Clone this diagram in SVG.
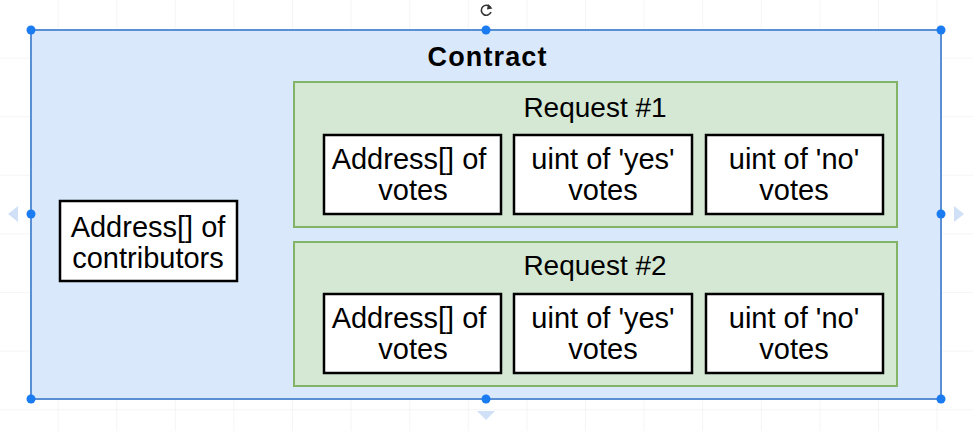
<svg xmlns="http://www.w3.org/2000/svg" width="973" height="431" viewBox="0 0 973 431">
<style>
text{font-family:"Liberation Sans",Arial,Helvetica,sans-serif;fill:#000;text-anchor:middle}
.t{font-size:29px}
.h{font-size:28px}
.c{font-size:27px;font-weight:bold}
.grp{fill:#d5e8d4;stroke:#82b366;stroke-width:2}
.box{fill:#fff;stroke:#000;stroke-width:2.5}
.hd{fill:#1a7cf0}
.ar{fill:#cfe0f7}
</style>
<defs>
<pattern id="grid" width="58.6" height="58.6" patternUnits="userSpaceOnUse" x="0" y="0">
<path d="M58.6 0V58.6M0 58.6H58.6" fill="none" stroke="#ececec" stroke-width="1"/>
</pattern>
</defs>
<rect width="973" height="431" fill="#fff"/>
<rect width="973" height="431" fill="url(#grid)"/>
<g id="contract">
<rect x="31" y="30" width="910" height="369" fill="#dae8fc" stroke="#5a8fd4" stroke-width="2"/>
<text class="c" x="487" y="66" textLength="119">Contract</text>
</g>
<g id="contributors">
<rect class="box" x="60" y="201" width="177" height="80"/>
<text class="t" x="148" y="237">Address[] of</text>
<text class="t" x="148" y="268">contributors</text>
</g>
<g id="request1">
<rect class="grp" x="294" y="82" width="603" height="145"/>
<text class="h" x="595" y="117">Request #1</text>
</g>
<g id="r1-addr">
<rect class="box" x="324" y="135" width="177" height="79"/>
<text class="t" x="409" y="169">Address[] of</text>
<text class="t" x="413" y="200">votes</text>
</g>
<g id="r1-yes">
<rect class="box" x="514" y="135" width="178" height="79"/>
<text class="t" x="603" y="169">uint of 'yes'</text>
<text class="t" x="603" y="200">votes</text>
</g>
<g id="r1-no">
<rect class="box" x="706" y="135" width="177" height="79"/>
<text class="t" x="794" y="169">uint of 'no'</text>
<text class="t" x="794" y="200">votes</text>
</g>
<g id="request2">
<rect class="grp" x="294" y="242" width="603" height="144"/>
<text class="h" x="595" y="275">Request #2</text>
</g>
<g id="r2-addr">
<rect class="box" x="324" y="294" width="177" height="79"/>
<text class="t" x="409" y="328">Address[] of</text>
<text class="t" x="413" y="359">votes</text>
</g>
<g id="r2-yes">
<rect class="box" x="514" y="294" width="178" height="79"/>
<text class="t" x="603" y="328">uint of 'yes'</text>
<text class="t" x="603" y="359">votes</text>
</g>
<g id="r2-no">
<rect class="box" x="706" y="294" width="177" height="79"/>
<text class="t" x="794" y="328">uint of 'no'</text>
<text class="t" x="794" y="359">votes</text>
</g>
<g id="connectors"></g>
<g id="selection">
<circle class="hd" cx="31" cy="30" r="4.5"/>
<circle class="hd" cx="486" cy="30" r="4.5"/>
<circle class="hd" cx="941" cy="30" r="4.5"/>
<circle class="hd" cx="31" cy="214" r="4.5"/>
<circle class="hd" cx="941" cy="214" r="4.5"/>
<circle class="hd" cx="31" cy="399" r="4.5"/>
<circle class="hd" cx="486" cy="399" r="4.5"/>
<circle class="hd" cx="941" cy="399" r="4.5"/>
<polygon class="ar" points="8,214 18,206 18,222"/>
<polygon class="ar" points="964,214 954,206 954,222"/>
<polygon class="ar" points="477,411 495,411 486,420"/>
<path d="M490.5 7.5A5 5 0 1 0 491 12" fill="none" stroke="#333" stroke-width="1.6"/>
<polygon points="488,4 492.5,8.5 487,9.5" fill="#333"/>
</g>
</svg>
